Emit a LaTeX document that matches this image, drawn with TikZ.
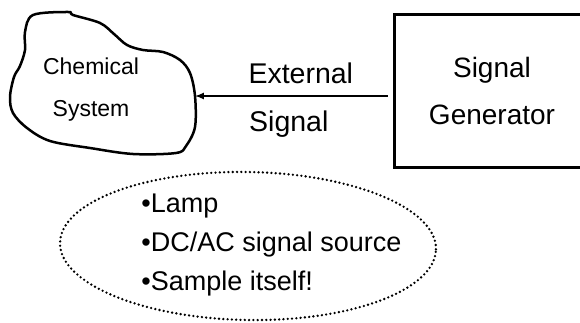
\documentclass[tikz,border=0pt]{standalone}
\usepackage{fontspec}
\setmainfont{Liberation Sans}
\usetikzlibrary{shapes.geometric}

\begin{document}
\begin{tikzpicture}[x=1pt,y=-1pt,>=latex,thick,
                    gen box/.style={minimum width=260pt,minimum height=152pt,
                                    align=center,font=\fontsize{28}{47}\selectfont},
                    dotted ring/.style={ellipse,draw,line width=2.6pt,line cap=round,
                                        dash pattern=on 0pt off 4.3pt,minimum width=376pt,minimum height=148pt},
                    label text/.style={font=\fontsize{28.5}{30}\selectfont,inner sep=0pt}]
  \useasboundingbox (0,0) rectangle (580,323);

  % chemical system blob
  \draw[line width=2.5pt,line join=round]
    plot[smooth cycle,tension=0.55] coordinates {(33,15) (68,12) (73,15) (100,23) (114,34) (127,45)
      (143,50) (163,52) (180,60) (190,73) (195,96) (195,127) (186,146) (176,153) (133,154)
      (90,148) (50,141) (27,128) (13,113) (10,97) (14,77) (20,66) (25,50) (25,32)};
  \coordinate (blobE) at (195,96);
  \node[align=center,font=\fontsize{23}{42}\selectfont] (chem) at (91,90) {Chemical\\System};

  % generator box, running off the right edge
  \node[gen box] (gen) at (525,91) {\hspace*{-66pt}Signal\\\hspace*{-66pt}Generator};
  \draw[line width=2.5pt] (gen.north east) -- (gen.north west) -- (gen.south west) -- (gen.south east);

  \draw[->,line width=2pt,shorten <=7pt] (gen.west |- blobE) -- (blobE)
    node[label text,pos=0.47,above=11pt] (ext) {External}
    node[label text,pos=0.53,below=14pt] (sig) {Signal};

  \node[dotted ring,rotate=-1] (ring) at (248,246) {};
  \node[align=left,anchor=west,font=\fontsize{27}{39}\selectfont,inner sep=0pt] (list) at (141,245)
    {\textbullet Lamp\\\textbullet DC/AC signal source\\\textbullet Sample itself!};
\end{tikzpicture}
\end{document}
